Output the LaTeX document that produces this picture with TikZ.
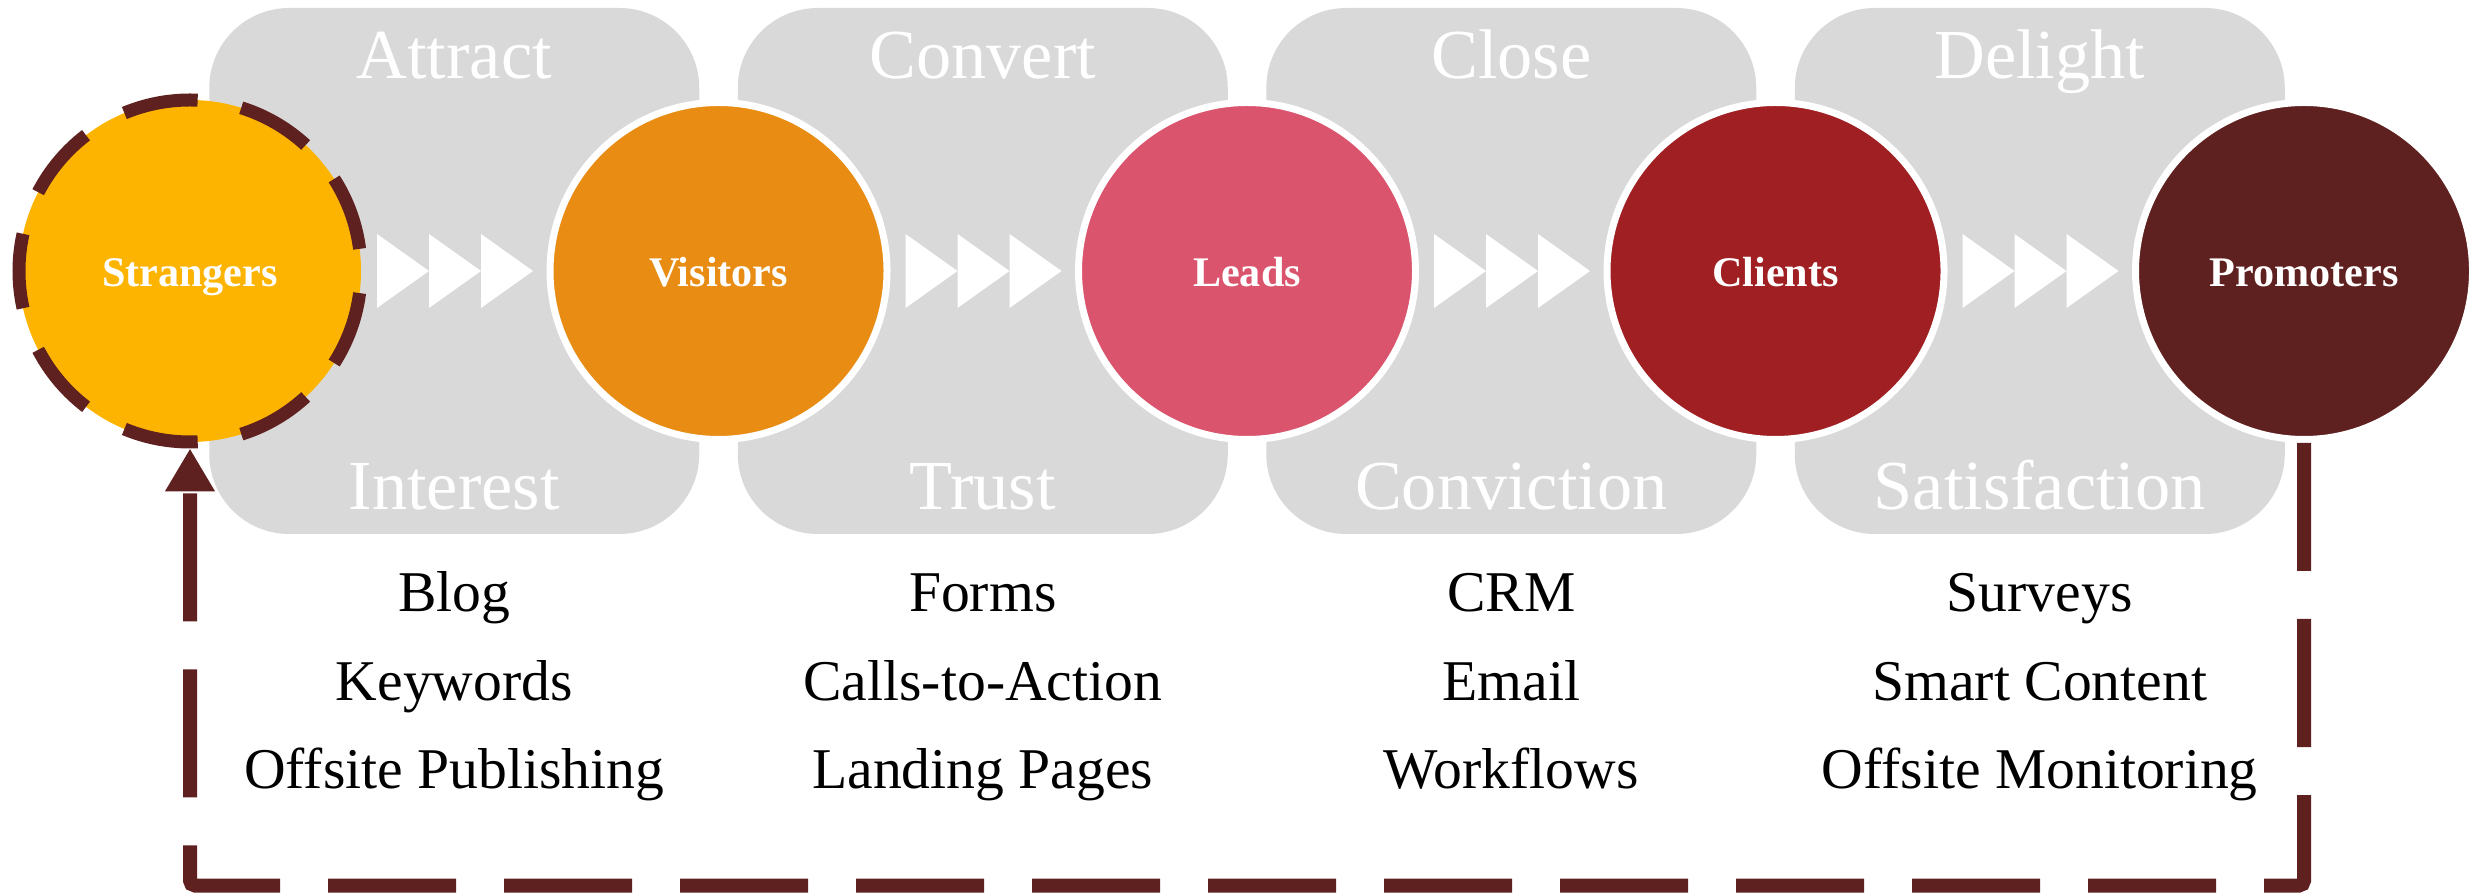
\documentclass[tikz,border=0pt]{standalone}
\usepackage{fontspec}
\setmainfont{Liberation Serif}
\usetikzlibrary{arrows.meta}
\definecolor{cStr}{HTML}{FDB400}
\definecolor{cVis}{HTML}{E88C14}
\definecolor{cLead}{HTML}{DB546D}
\definecolor{cCli}{HTML}{A01F22}
\definecolor{cProm}{HTML}{5F2120}
\definecolor{cDark}{HTML}{5F2120}
\definecolor{cGrey}{HTML}{D9D9D9}
\begin{document}
\begin{tikzpicture}[
  stagebox/.style={fill=cGrey, rounded corners=0.8cm, minimum width=4.9cm, minimum height=5.26cm, inner sep=0pt},
  circlabel/.style={text=white, font=\fontsize{12}{14}\selectfont\bfseries, text height=0.92em, text depth=0.06em},
  stagecircle/.style={circle, minimum size=3.37cm, inner sep=0pt, draw=white, line width=0.07cm, circlabel},
  toplabel/.style={text=white, font=\fontsize{20}{24}\selectfont, anchor=base, inner sep=0pt},
  itemtext/.style={font=\fontsize{16.4}{20}\selectfont, anchor=base, inner sep=0pt},
  chev/.style={fill=white},
  loopline/.style={draw=cDark, line width=0.14cm, dash pattern=on 1.28cm off 0.48cm, rounded corners=0.05cm}
]
\useasboundingbox (0,0) rectangle (24.78,-8.93);

% stage boxes
\node[stagebox] (b1) at (4.5425,-2.71) {};
\node[stagebox] (b2) at (9.8275,-2.71) {};
\node[stagebox] (b3) at (15.1125,-2.71) {};
\node[stagebox] (b4) at (20.3975,-2.71) {};

% labels on boxes
\node[toplabel] (t1) at (4.5425,-0.785) {Attract};
\node[toplabel] (t2) at (9.8275,-0.785) {Convert};
\node[toplabel] (t3) at (15.1125,-0.785) {Close};
\node[toplabel] (t4) at (20.3975,-0.785) {Delight};
\node[toplabel] (u1) at (4.5425,-5.10) {Interest};
\node[toplabel] (u2) at (9.8275,-5.10) {Trust};
\node[toplabel] (u3) at (15.1125,-5.10) {Conviction};
\node[toplabel] (u4) at (20.3975,-5.10) {Satisfaction};

% chevrons
\foreach \k in {0,1,2,3}{
  \foreach \j in {0,1,2}{
    \pgfmathsetmacro{\xo}{1.90+5.285*\k+1.87+0.52*\j}
    \fill[chev] (\xo,-2.34) -- (\xo+0.52,-2.71) -- (\xo,-3.08) -- cycle;
  }
}

% circles
\node[circle, minimum size=3.42cm, inner sep=0pt, fill=cStr, draw=cDark, line width=0.13cm,
  dash pattern=on 0.75cm off 0.444cm, dash phase=0.972cm, circlabel] (str) at (1.90,-2.71) {Strangers};
\node[stagecircle, fill=cVis] (vis) at (7.185,-2.71) {Visitors};
\node[stagecircle, fill=cLead] (lead) at (12.47,-2.71) {Leads};
\node[stagecircle, fill=cCli] (cli) at (17.755,-2.71) {Clients};
\node[stagecircle, fill=cProm] (prom) at (23.04,-2.71) {Promoters};

% lists
\node[itemtext] (l11) at (4.5425,-6.116) {Blog};
\node[itemtext] (l12) at (4.5425,-7.00) {Keywords};
\node[itemtext] (l13) at (4.5425,-7.88) {Offsite Publishing};
\node[itemtext] (l21) at (9.8275,-6.116) {Forms};
\node[itemtext] (l22) at (9.8275,-7.00) {Calls-to-Action};
\node[itemtext] (l23) at (9.8275,-7.88) {Landing Pages};
\node[itemtext] (l31) at (15.1125,-6.116) {CRM};
\node[itemtext] (l32) at (15.1125,-7.00) {Email};
\node[itemtext] (l33) at (15.1125,-7.88) {Workflows};
\node[itemtext] (l41) at (20.3975,-6.116) {Surveys};
\node[itemtext] (l42) at (20.3975,-7.00) {Smart Content};
\node[itemtext] (l43) at (20.3975,-7.88) {Offsite Monitoring};

% feedback loop
\coordinate (br) at (23.04,-8.855);
\coordinate (bl) at (1.90,-8.855);
\draw[loopline, -{Triangle[length=0.43cm,width=0.47cm]}] (prom.south) -- (br) -- (bl) -- (str.south);
\end{tikzpicture}
\end{document}
